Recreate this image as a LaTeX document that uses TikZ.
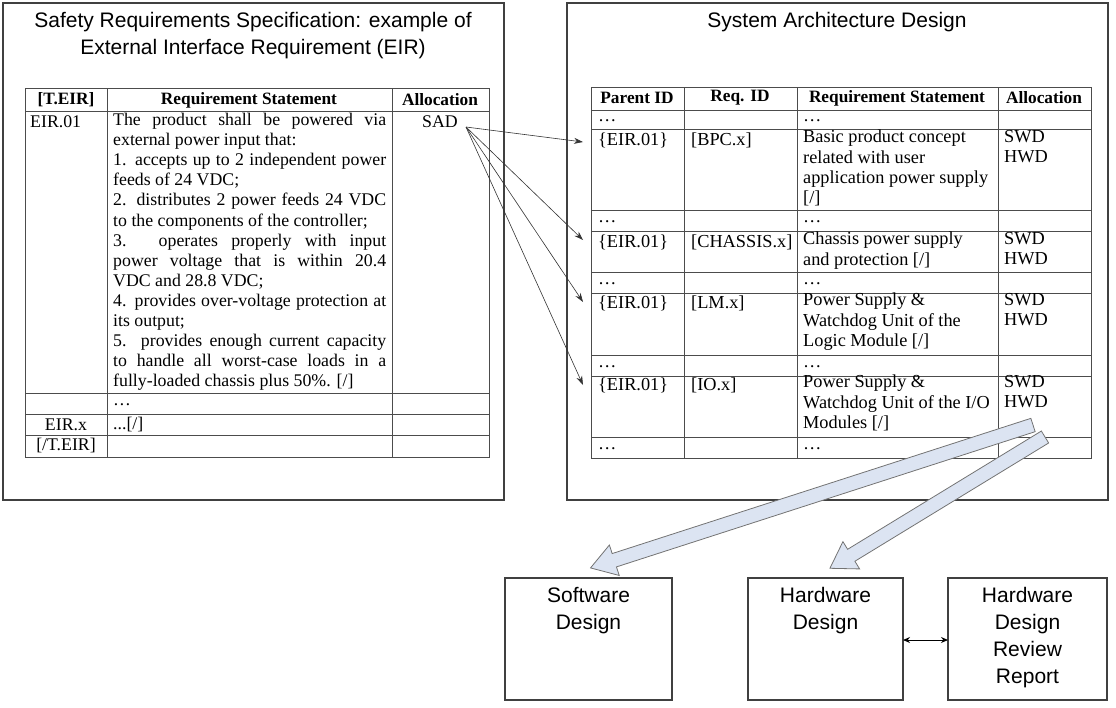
\documentclass[tikz,border=0pt]{standalone}
\usepackage{fontspec}
\setmainfont{Liberation Serif}
\newfontfamily\sans{Liberation Sans}
\usetikzlibrary{arrows.meta}
\definecolor{fatc}{HTML}{DCE4F2}
\begin{document}
\begin{tikzpicture}[x=1pt,y=-1pt,
  box/.style={draw=black!75,line width=1.2pt},
  grid/.style={draw=black!70,line width=0.9pt},
  ttl/.style={font=\sans\fontsize{21}{27}\selectfont,align=center,inner sep=0},
  c/.style={font=\fontsize{18.3}{20.1}\selectfont,inner sep=0,anchor=west},
  lc/.style={font=\fontsize{17.8}{20.1}\selectfont,inner sep=0,anchor=west},
  h/.style={font=\fontsize{17.3}{20.1}\selectfont\bfseries,inner sep=0},
  thin/.style={-{Stealth[length=9pt,width=6pt]},line width=0.6pt,black!80},
  fat/.style={draw=black!55,fill=fatc,line width=0.8pt}]
\useasboundingbox (0,0) rectangle (1116,707);
% outer boxes
\draw[box] (3,3) rectangle (504,500);
\draw[box] (567,3) rectangle (1108,500);
\node[ttl] (t1) at (253,36) {Safety Requirements Specification: example of\\External Interface Requirement (EIR)};
\node[ttl] (t2) at (837,22) {System Architecture Design};
% left table
\draw[grid] (25,88) rectangle (489,457);
\foreach \x in {107,392} \draw[grid] (\x,88) -- (\x,457);
\foreach \y in {111,393,414,435} \draw[grid] (25,\y) -- (489,\y);
\node[h] at (66,100) {[T.EIR]};
\node[h] at (249,100) {Requirement Statement};
\node[h] at (440,100) {Allocation};
\node[lc] at (30,122) {EIR.01};
\node (sad) [lc,anchor=center] at (440,122) {SAD};
\node[lc,anchor=north west,align=left] at (113,113) {%
\makebox[273pt][s]{The product shall be powered via}\\
external power input that:\\
\makebox[273pt][s]{1. accepts up to 2 independent power}\\
feeds of 24 VDC;\\
\makebox[273pt][s]{2. distributes 2 power feeds 24 VDC}\\
to the components of the controller;\\
\makebox[273pt][s]{3. operates properly with input}\\
\makebox[273pt][s]{power voltage that is within 20.4}\\
VDC and 28.8 VDC;\\
\makebox[273pt][s]{4. provides over-voltage protection at}\\
its output;\\
\makebox[273pt][s]{5. provides enough current capacity}\\
\makebox[273pt][s]{to handle all worst-case loads in a}\\
fully-loaded chassis plus 50\%. [/]};
\node[lc] at (113,405) {\dots};
\node[lc,anchor=center] at (66,425) {EIR.x};
\node[lc] at (113,425) {...[/]};
\node[lc,anchor=center] at (66,446) {[/T.EIR]};
% right table
\draw[grid] (591,87) rectangle (1091,458);
\foreach \x in {684,797,998} \draw[grid] (\x,87) -- (\x,458);
\foreach \y in {110,129,210,231,272,293,355,376,437} \draw[grid] (591,\y) -- (1091,\y);
\node[h] at (637,98) {Parent ID};
\node[h] at (740,98) {Req. ID};
\node[h] at (897,98) {Requirement Statement};
\node[h] at (1044,98) {Allocation};
\foreach \y in {121,222,284,367,449} {\node[c] at (598,\y) {\dots}; \node[c] at (803,\y) {\dots};}
\foreach \y/\n in {140/r1,242/r2,303/r3,385/r4} {
  \node[c] (\n) at (598,\y) {\{EIR.01\}};
  \node[c,anchor=north west,align=left] at (1004,\y-10) {SWD\\HWD};}
\node[c] at (691,140) {[BPC.x]};
\node[c] at (691,242) {[CHASSIS.x]};
\node[c] at (691,303) {[LM.x]};
\node[c] at (691,385) {[IO.x]};
\node[c,anchor=north west,align=left] at (803,130) {Basic product concept\\related with user\\application power supply\\{[/]}};
\node[c,anchor=north west,align=left] at (803,232) {Chassis power supply\\and protection [/]};
\node[c,anchor=north west,align=left] at (803,293) {Power Supply \&\\Watchdog Unit of the\\Logic Module [/]};
\node[c,anchor=north west,align=left] at (803,375) {Power Supply \&\\Watchdog Unit of the I/O\\Modules [/]};
\coordinate (e1) at (583,142);
\coordinate (e2) at (583,240);
\coordinate (e3) at (583,302);
\coordinate (e4) at (583,385);
\coordinate (s0) at (466,127);
\foreach \e in {e1,e2,e3,e4} \draw[thin] (s0) -- (\e);
% bottom boxes
\draw[box] (505,578) rectangle (672,700);
\draw[box] (748,578) rectangle (903,700);
\draw[box] (948,578) rectangle (1107,700);
\node (sw) [ttl,anchor=north] at (588.5,587) {Software\\Design};
\node (hw) [ttl,anchor=north] at (825.5,587) {Hardware\\Design};
\node (rv) [ttl,anchor=north] at (1027.5,587) {Hardware\\Design\\Review\\Report};
\coordinate (hwr) at (903,640);
\coordinate (rvl) at (948,640);
\draw[{Stealth[length=7pt,width=6pt]}-{Stealth[length=7pt,width=6pt]},line width=1pt] (hwr) -- (rvl);
% fat arrows
\begin{scope}[shift={(1033,425)},rotate=197.9]
\draw[fat] (0,-7) -- (440,-7) -- (440,-16) -- (465,0) -- (440,16) -- (440,7) -- (0,7) -- cycle;
\end{scope}
\begin{scope}[shift={(1045,437)},rotate=211.4]
\draw[fat] (0,-7) -- (227,-7) -- (227,-16) -- (252,0) -- (227,16) -- (227,7) -- (0,7) -- cycle;
\end{scope}
\end{tikzpicture}
\end{document}
